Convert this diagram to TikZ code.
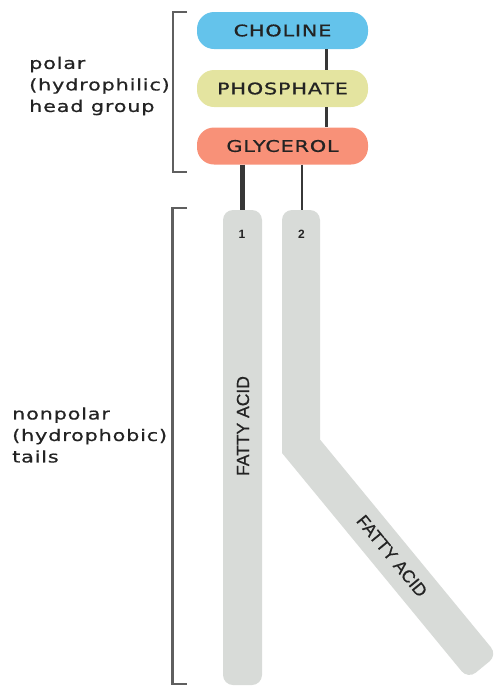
\documentclass[tikz,border=0pt]{standalone}
\usepackage{fontspec}
\setmainfont{Liberation Sans}
\newfontfamily\headfont[FakeStretch=1.3, LetterSpace=5, FakeBold=0.7]{DejaVu Sans}
\newfontfamily\sidefont[FakeStretch=1.3, LetterSpace=5, FakeBold=0.6]{DejaVu Sans}
\newfontfamily\faFont[FakeBold=0.5]{Liberation Sans}
\usetikzlibrary{calc}
\definecolor{cholc}{RGB}{100,195,235}
\definecolor{phosc}{RGB}{228,228,160}
\definecolor{glyc}{RGB}{248,145,120}
\definecolor{tailc}{RGB}{216,219,216}
\definecolor{linec}{RGB}{55,55,55}
\definecolor{brackc}{RGB}{95,95,95}
\definecolor{txtc}{RGB}{35,35,35}
\tikzset{
  pill/.style={rectangle, rounded corners=17pt, minimum width=171pt, minimum height=37pt,
    inner sep=0pt, text=txtc, font=\headfont\fontsize{16}{16}\selectfont},
  bond/.style={draw=linec, line width=3pt},
  brack/.style={draw=brackc, line width=2.6pt},
  sidelbl/.style={anchor=west, align=left, text=txtc, inner sep=0pt,
    font=\sidefont\fontsize{16}{21.5}\selectfont},
  falbl/.style={text=txtc, inner sep=0pt, font=\faFont\fontsize{17.5}{17.5}\selectfont},
  numlbl/.style={text=txtc, inner sep=0pt, font=\bfseries\fontsize{12}{12}\selectfont}
}
\begin{document}
\begin{tikzpicture}[x=1pt, y=-1pt]
\useasboundingbox (0,0) rectangle (497,686);
% head group
\node[pill, fill=cholc] (choline) at (282.5,30.5) {CHOLINE};
\node[pill, fill=phosc] (phosphate) at (282.5,88.5) {PHOSPHATE};
\node[pill, fill=glyc] (glycerol) at (282.5,146) {GLYCEROL};
% tails
\node[rectangle, rounded corners=10pt, fill=tailc, minimum width=39pt, minimum height=475pt,
  inner sep=0pt] (tail1) at (242.5,447.5) {};
\fill[tailc] (282,453) [rounded corners=10pt] -- (282,210) -- (320,210) [sharp corners] -- (320,439.5)
  [rounded corners=10pt] -- (497.3,655) -- (468,679) [sharp corners] -- cycle;
\coordinate (tail2top) at (301.5,210);
% bonds
\draw[bond] ($(choline.south)+(43.5,0)$) -- ($(phosphate.north)+(43.5,0)$);
\draw[bond] ($(phosphate.south)+(43.5,0)$) -- ($(glycerol.north)+(43.5,0)$);
\draw[draw=linec, line width=5pt] (tail1.north |- glycerol.south) -- (tail1.north);
\draw[draw=linec, line width=2pt] (tail2top |- glycerol.south) -- (tail2top);
% labels on tails
\node[numlbl] (n1) at (242,234) {1};
\node[numlbl] (n2) at (301.5,234) {2};
\node[falbl, rotate=90] (fa1) at (243,426) {FATTY ACID};
\node[falbl, rotate=-50.6] (fa2) at (392,556) {FATTY ACID};
% brackets
\draw[brack] (187,12) -- (173,12) -- (173,172) -- (187,172);
\draw[brack] (187,208) -- (172.5,208) -- (172.5,684) -- (187,684);
% side labels
\node[sidelbl] (headlbl) at (29,86) {polar\\(hydrophilic)\\head group};
\node[sidelbl] (taillbl) at (12,435) {nonpolar\\(hydrophobic)\\tails};
\end{tikzpicture}
\end{document}
